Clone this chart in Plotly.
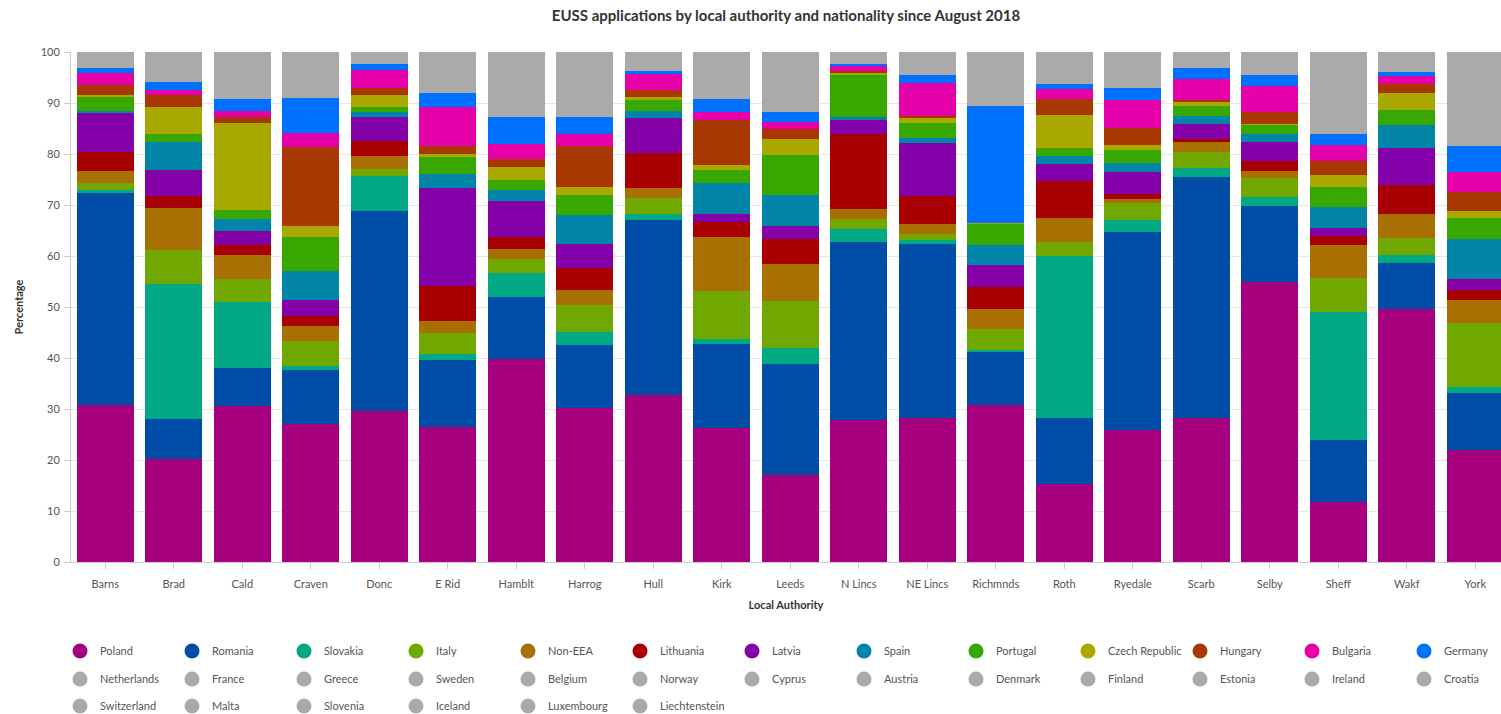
import plotly.graph_objects as go

authorities = ["Barns", "Brad", "Cald", "Craven", "Donc", "E Rid", "Hamblt", "Harrog", "Hull", "Kirk",
               "Leeds", "N Lincs", "NE Lincs", "Richmnds", "Roth", "Ryedale", "Scarb", "Selby", "Sheff",
               "Wakf", "York"]

poland = [30.7, 20.2, 30.6, 27.0, 29.6, 26.5, 39.9, 30.2, 32.8, 26.2, 17.0, 27.9, 28.3, 30.8, 15.3, 25.9, 28.2, 55.0, 11.7, 49.7, 21.9]
romania = [41.7, 7.8, 7.5, 10.6, 39.2, 13.1, 12.0, 12.4, 34.3, 16.6, 21.8, 34.9, 34.0, 10.5, 13.0, 38.8, 47.2, 14.8, 12.3, 9.0, 11.3]
slovakia = [0.5, 26.5, 12.8, 0.9, 6.8, 1.2, 4.7, 2.5, 1.2, 1.0, 3.2, 2.5, 0.9, 0.2, 31.7, 2.3, 1.9, 1.8, 25.1, 1.4, 1.1]
italy = [1.5, 6.8, 4.5, 4.8, 1.5, 4.1, 2.9, 5.3, 3.0, 9.4, 9.1, 1.9, 1.1, 4.1, 2.8, 3.3, 3.1, 3.7, 6.6, 3.4, 12.5]
non_eea = [2.2, 8.1, 4.8, 2.9, 2.5, 2.4, 1.8, 3.0, 2.0, 10.5, 7.3, 2.1, 2.0, 4.1, 4.6, 0.8, 2.0, 1.3, 6.4, 4.8, 4.5]
lithuania = [3.8, 2.5, 2.0, 2.0, 3.0, 6.9, 2.4, 4.2, 6.9, 2.9, 4.9, 14.7, 5.4, 4.2, 7.3, 1.0, 0.5, 2.1, 1.9, 5.6, 2.1]
latvia = [7.6, 5.1, 2.7, 3.1, 4.6, 19.1, 7.1, 4.7, 6.9, 1.7, 2.5, 2.7, 10.5, 4.3, 3.4, 4.3, 3.0, 3.7, 1.5, 7.2, 2.1]
spain = [0.5, 5.5, 2.3, 5.7, 1.0, 2.8, 2.1, 5.7, 1.3, 6.0, 6.1, 0.5, 0.9, 4.0, 1.6, 1.8, 1.6, 1.6, 4.1, 4.6, 7.8]
portugal = [2.8, 1.5, 1.8, 6.8, 1.1, 3.3, 2.0, 3.9, 2.1, 2.6, 7.9, 8.3, 2.9, 4.1, 1.5, 2.5, 2.0, 1.7, 4.0, 3.0, 4.2]
czech = [0.3, 5.4, 17.0, 2.0, 2.2, 0.6, 2.5, 1.7, 0.7, 1.0, 3.2, 0.5, 1.2, 0.1, 6.5, 1.0, 0.7, 0.2, 2.2, 3.3, 1.3]
hungary = [2.0, 2.3, 1.3, 15.6, 1.5, 1.6, 1.7, 8.0, 1.3, 8.8, 1.9, 0.2, 0.3, 0.0, 3.1, 3.4, 0.4, 2.3, 2.9, 1.7, 3.8]
bulgaria = [2.2, 1.0, 1.1, 2.8, 3.5, 7.6, 2.9, 2.4, 3.1, 1.5, 1.4, 1.1, 6.5, 0.0, 1.9, 5.4, 4.2, 5.2, 3.1, 1.6, 3.8]
germany = [1.1, 1.6, 2.4, 6.8, 1.2, 2.8, 5.3, 3.2, 0.7, 2.6, 1.9, 0.5, 1.5, 23.0, 1.1, 2.5, 2.0, 2.0, 2.2, 0.7, 5.2]

netherlands = [0.4, 0.8, 1.3, 1.4, 0.3, 1.2, 1.8, 1.8, 0.5, 1.2, 1.7, 0.3, 0.6, 1.5, 0.9, 1.0, 0.4, 0.6, 2.3, 0.6, 2.7]
france = [0.4, 0.9, 1.2, 1.3, 0.3, 1.1, 1.7, 1.7, 0.5, 1.3, 1.6, 0.3, 0.6, 1.4, 0.9, 1.0, 0.4, 0.6, 2.2, 0.5, 2.6]
greece = [0.3, 0.6, 0.9, 0.8, 0.2, 0.7, 1.2, 1.2, 0.4, 0.9, 1.1, 0.2, 0.4, 1.0, 0.6, 0.7, 0.3, 0.4, 1.5, 0.4, 1.7]
sweden = [0.2, 0.3, 0.6, 0.6, 0.1, 0.5, 0.8, 0.8, 0.2, 0.6, 0.7, 0.1, 0.3, 0.7, 0.4, 0.4, 0.2, 0.3, 1.0, 0.3, 1.2]
belgium = [0.2, 0.4, 0.6, 0.5, 0.1, 0.5, 0.8, 0.8, 0.2, 0.6, 0.7, 0.1, 0.3, 0.6, 0.4, 0.4, 0.2, 0.3, 1.0, 0.2, 1.1]
norway = [0.1, 0.2, 0.3, 0.3, 0.1, 0.3, 0.4, 0.4, 0.1, 0.3, 0.4, 0.1, 0.2, 0.4, 0.2, 0.3, 0.1, 0.2, 0.5, 0.1, 0.6]
cyprus = [0.2, 0.3, 0.5, 0.4, 0.1, 0.4, 0.6, 0.6, 0.2, 0.5, 0.6, 0.1, 0.2, 0.5, 0.3, 0.4, 0.2, 0.2, 0.8, 0.2, 0.9]
austria = [0.2, 0.3, 0.5, 0.5, 0.2, 0.4, 0.7, 0.7, 0.2, 0.5, 0.6, 0.2, 0.3, 0.6, 0.3, 0.4, 0.2, 0.3, 0.8, 0.2, 0.9]
denmark = [0.1, 0.2, 0.4, 0.4, 0.1, 0.3, 0.5, 0.5, 0.1, 0.4, 0.5, 0.1, 0.2, 0.4, 0.2, 0.3, 0.1, 0.2, 0.6, 0.2, 0.7]
finland = [0.1, 0.2, 0.3, 0.3, 0.1, 0.3, 0.4, 0.4, 0.1, 0.3, 0.4, 0.1, 0.1, 0.3, 0.2, 0.2, 0.1, 0.1, 0.5, 0.1, 0.6]
estonia = [0.2, 0.3, 0.4, 0.4, 0.2, 0.3, 0.6, 0.6, 0.3, 0.4, 0.6, 0.2, 0.3, 0.5, 0.4, 0.3, 0.2, 0.3, 0.8, 0.3, 0.8]
ireland = [0.2, 0.3, 0.6, 0.8, 0.1, 0.6, 0.9, 1.0, 0.2, 0.6, 0.8, 0.1, 0.3, 0.8, 0.4, 0.5, 0.3, 0.3, 1.1, 0.3, 1.3]
croatia = [0.2, 0.4, 0.6, 0.5, 0.2, 0.5, 0.8, 0.8, 0.3, 0.6, 0.8, 0.2, 0.3, 0.7, 0.5, 0.4, 0.2, 0.3, 1.1, 0.3, 1.2]
switzerland = [0.1, 0.1, 0.2, 0.2, 0.1, 0.2, 0.3, 0.3, 0.1, 0.2, 0.3, 0.1, 0.1, 0.3, 0.1, 0.2, 0.1, 0.1, 0.4, 0.1, 0.5]
malta = [0.1, 0.1, 0.2, 0.2, 0.0, 0.2, 0.3, 0.3, 0.1, 0.2, 0.2, 0.0, 0.1, 0.2, 0.1, 0.1, 0.1, 0.1, 0.3, 0.1, 0.4]
slovenia = [0.1, 0.2, 0.3, 0.2, 0.1, 0.2, 0.4, 0.4, 0.1, 0.3, 0.4, 0.0, 0.1, 0.3, 0.2, 0.2, 0.1, 0.1, 0.5, 0.1, 0.5]
iceland = [0.0, 0.1, 0.1, 0.1, 0.0, 0.1, 0.2, 0.2, 0.1, 0.1, 0.2, 0.0, 0.1, 0.2, 0.1, 0.1, 0.0, 0.1, 0.3, 0.0, 0.3]
luxembourg = [0.0, 0.1, 0.1, 0.1, 0.0, 0.1, 0.2, 0.2, 0.0, 0.1, 0.1, 0.0, 0.0, 0.1, 0.0, 0.1, 0.0, 0.1, 0.2, 0.0, 0.3]
liechtenstein = [0.0, 0.0, 0.1, 0.0, 0.0, 0.1, 0.1, 0.1, 0.0, 0.1, 0.1, 0.0, 0.0, 0.1, 0.0, 0.0, 0.0, 0.0, 0.1, 0.0, 0.1]

GREY = "#aaaaaa"
series = [
    ("Poland", poland, "#a6007e"),
    ("Romania", romania, "#004da8"),
    ("Slovakia", slovakia, "#00a884"),
    ("Italy", italy, "#70a800"),
    ("Non-EEA", non_eea, "#a87000"),
    ("Lithuania", lithuania, "#a80000"),
    ("Latvia", latvia, "#8400a8"),
    ("Spain", spain, "#0084a8"),
    ("Portugal", portugal, "#38a800"),
    ("Czech Republic", czech, "#a8a800"),
    ("Hungary", hungary, "#a83800"),
    ("Bulgaria", bulgaria, "#e600a9"),
    ("Germany", germany, "#0070ff"),
    ("Netherlands", netherlands, GREY),
    ("France", france, GREY),
    ("Greece", greece, GREY),
    ("Sweden", sweden, GREY),
    ("Belgium", belgium, GREY),
    ("Norway", norway, GREY),
    ("Cyprus", cyprus, GREY),
    ("Austria", austria, GREY),
    ("Denmark", denmark, GREY),
    ("Finland", finland, GREY),
    ("Estonia", estonia, GREY),
    ("Ireland", ireland, GREY),
    ("Croatia", croatia, GREY),
    ("Switzerland", switzerland, GREY),
    ("Malta", malta, GREY),
    ("Slovenia", slovenia, GREY),
    ("Iceland", iceland, GREY),
    ("Luxembourg", luxembourg, GREY),
    ("Liechtenstein", liechtenstein, GREY),
]

FONT = "Lato, 'Open Sans', sans-serif"
fig = go.Figure()

for i, (name, vals, col) in enumerate(series):
    fig.add_trace(go.Bar(
        x=authorities, y=vals, name=name, legendgroup=name, showlegend=False,
        marker=dict(color=col, line=dict(width=0)),
    ))

for i, (name, vals, col) in enumerate(series):
    leg = "legend" if i < 13 else ("legend2" if i < 26 else "legend3")
    fig.add_trace(go.Scatter(
        x=[None], y=[None], mode="markers", name=name, legendgroup=name,
        legend=leg, showlegend=True,
        marker=dict(color=col, size=15, symbol="circle"),
    ))

leg_common = dict(
    orientation="h", xanchor="left", yanchor="middle",
    font=dict(family=FONT, size=11, color="#555555"),
    entrywidth=67, entrywidthmode="pixels",
    bgcolor="rgba(0,0,0,0)", itemclick="toggle",
)
ypx = lambda py: (562 - py) / 510.0
lx = (60 - 71) / 1430.0

fig.update_layout(
    width=1501, height=714,
    margin=dict(l=71, r=0, t=52, b=152, autoexpand=False),
    barmode="stack", barnorm="percent", bargap=0.17,
    paper_bgcolor="white", plot_bgcolor="white",
    font=dict(family=FONT, size=11, color="#555555"),
    title=dict(text="EUSS applications by local authority and nationality since August 2018",
               x=0.5, xanchor="center", xref="paper", y=0.978, yanchor="middle",
               font=dict(family=FONT, size=15, color="#333333", weight="bold")),
    xaxis=dict(
        type="category", range=[-0.5, 20.376],
        showline=True, linecolor="#cccccc", linewidth=1,
        ticks="outside", ticklen=6, tickcolor="#cccccc",
        ticklabelstandoff=6,
        tickfont=dict(family=FONT, size=11, color="#555555"),
        showgrid=False,
        title=dict(text="Local Authority", standoff=12,
                   font=dict(family=FONT, size=11, color="#333333", weight="bold")),
    ),
    yaxis=dict(
        range=[0, 100], dtick=10, tick0=0,
        showline=True, linecolor="#cccccc", linewidth=1,
        ticks="outside", ticklen=6, tickcolor="#cccccc",
        showgrid=True, gridcolor="#e8e8e8", gridwidth=1, zeroline=False,
        tickfont=dict(family=FONT, size=11, color="#555555"),
        ticklabelstandoff=2,
        title=dict(text="Percentage", standoff=14,
                   font=dict(family=FONT, size=11, color="#333333", weight="bold")),
    ),
    legend=dict(x=lx, y=ypx(651), **leg_common),
    legend2=dict(x=lx, y=ypx(679), **leg_common),
    legend3=dict(x=lx, y=ypx(706), **leg_common),
)

fig.write_html(
    "out.html",
    config={"displayModeBar": False},
    post_script="document.body.style.margin='0px';document.body.style.overflow='hidden';",
)
